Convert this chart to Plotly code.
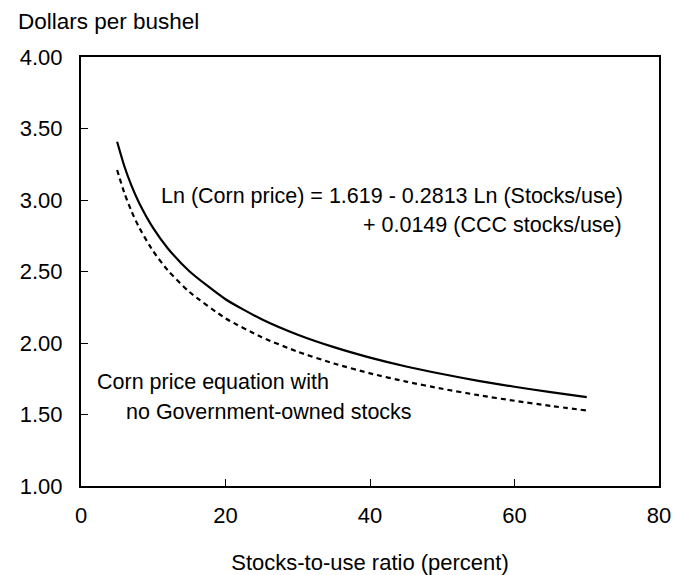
import plotly.graph_objects as go

# Stocks-to-use ratio (percent)
stocks_to_use = [5, 6, 7, 8, 10, 12, 15, 20, 25, 30, 35, 40, 45, 50, 55, 60, 65, 70]
# Corn price with CCC stocks (solid)
price_with_ccc = [3.407, 3.236, 3.099, 2.985, 2.803, 2.663, 2.502, 2.306, 2.166, 2.058,
                  1.971, 1.898, 1.836, 1.783, 1.735, 1.694, 1.656, 1.622]
# Corn price with no Government-owned stocks (dashed)
price_no_gov = [3.210, 3.049, 2.920, 2.812, 2.641, 2.509, 2.357, 2.173, 2.041, 1.939,
                1.857, 1.788, 1.730, 1.680, 1.635, 1.596, 1.560, 1.528]

y_ticks = [1.0, 1.5, 2.0, 2.5, 3.0, 3.5, 4.0]
x_ticks = [0, 20, 40, 60, 80]

FONT = "Liberation Sans, Arial, sans-serif"
TXT = 21.5

fig = go.Figure()
fig.add_trace(go.Scatter(x=stocks_to_use, y=price_with_ccc, mode="lines",
                         line=dict(color="black", width=2.2, shape="spline", smoothing=0.6),
                         showlegend=False, hoverinfo="skip"))
fig.add_trace(go.Scatter(x=stocks_to_use, y=price_no_gov, mode="lines",
                         line=dict(color="black", width=2.2, dash="5px,4px", shape="spline",
                                   smoothing=0.6),
                         showlegend=False, hoverinfo="skip"))

# page is offset by the browser's 8px body margin
fig.update_layout(
    width=683, height=575,
    margin=dict(l=70, r=32, t=49, b=97),
    paper_bgcolor="white", plot_bgcolor="white",
    font=dict(family=FONT, size=22, color="black"),
    xaxis=dict(range=[0, 80], tickvals=x_ticks, ticktext=[str(v) for v in x_ticks],
               ticks="inside", ticklen=7, tickwidth=1, tickcolor="black",
               showline=True, linecolor="black", linewidth=2, mirror=True,
               showgrid=False, zeroline=False, ticklabelstandoff=9,
               tickfont=dict(family=FONT, size=22),
               title=dict(text="Stocks-to-use ratio (percent)", standoff=27,
                          font=dict(family=FONT, size=22))),
    yaxis=dict(range=[1, 4], tickvals=y_ticks, ticktext=[f"{v:.2f}" for v in y_ticks],
               ticks="inside", ticklen=7, tickwidth=1, tickcolor="black",
               showline=True, linecolor="black", linewidth=2, mirror=True,
               showgrid=False, zeroline=False, ticklabelstandoff=12,
               tickfont=dict(family=FONT, size=22)),
)

fig.add_annotation(text="Dollars per bushel", xref="paper", yref="paper",
                   x=-65/581, y=1 + 35/429, xanchor="left", yanchor="middle",
                   showarrow=False, font=dict(family=FONT, size=22.5))
fig.add_annotation(text="Ln (Corn price) = 1.619 - 0.2813 Ln (Stocks/use)", x=10.8, y=3.03,
                   xanchor="left", yanchor="middle", showarrow=False,
                   font=dict(family=FONT, size=TXT))
fig.add_annotation(text="+ 0.0149 (CCC stocks/use)", x=75.1, y=2.825,
                   xanchor="right", yanchor="middle", showarrow=False,
                   font=dict(family=FONT, size=TXT))
fig.add_annotation(text="Corn price equation with", x=1.9, y=1.724,
                   xanchor="left", yanchor="middle", showarrow=False,
                   font=dict(family=FONT, size=TXT))
fig.add_annotation(text="no Government-owned stocks", x=6.0, y=1.517,
                   xanchor="left", yanchor="middle", showarrow=False,
                   font=dict(family=FONT, size=TXT))

fig.write_html("out.html")
